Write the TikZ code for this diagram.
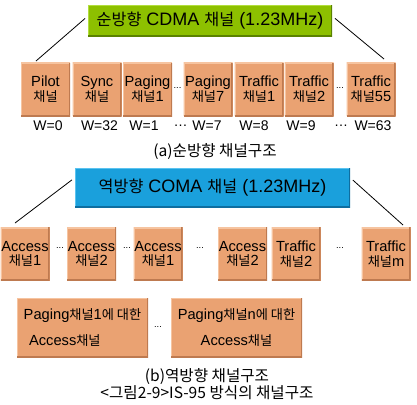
\documentclass[tikz,border=0pt]{standalone}
\usepackage{fontspec}
\setmainfont{Liberation Sans}
\newfontfamily\krfont[Scale=0.9]{Noto Sans CJK KR}
\newcommand\ko[1]{{\krfont#1}}
\usetikzlibrary{positioning}
\definecolor{grn}{RGB}{141,192,0}
\definecolor{grnhi}{RGB}{178,222,60}
\definecolor{grnline}{RGB}{90,130,0}
\definecolor{blu}{RGB}{26,160,220}
\definecolor{bluhi}{RGB}{90,195,240}
\definecolor{bluline}{RGB}{14,110,160}
\definecolor{org}{RGB}{234,162,114}
\definecolor{orghi}{RGB}{246,196,160}
\definecolor{orgline}{RGB}{190,122,80}
\tikzset{bevel/.style 2 args={path picture={
	\draw[#1, line width=2pt] (path picture bounding box.south west) -- (path picture bounding box.north west) -- (path picture bounding box.north east);
	\draw[#2, line width=2pt] (path picture bounding box.north east) -- (path picture bounding box.south east) -- (path picture bounding box.south west);}}}
\tikzset{chan/.style={fill=org, bevel={orghi}{orgline}, minimum width=36.75pt, minimum height=40pt, inner sep=0pt, align=center, font=\fontsize{11}{11}\selectfont}}
\tikzstyle{head}=[inner sep=0pt, font=\fontsize{13.5}{16}\selectfont]
\tikzstyle{dots}=[inner sep=0pt, font=\fontsize{7}{7}\selectfont]
\tikzstyle{wlab}=[inner sep=0pt, font=\fontsize{10.5}{11}\selectfont]
\tikzstyle{captxt}=[inner sep=0pt, font=\krfont\fontsize{13}{13}\selectfont]

\begin{document}
\begin{tikzpicture}[x=0.75pt, y=-0.75pt, line width=0.6pt]
\useasboundingbox (0,0) rectangle (417,404);
% forward link
\node[head, fill=grn, bevel={grnhi}{grnline}, minimum width=183pt, minimum height=23.25pt] at (210,20.5) (fwd){\ko{순방향} CDMA \ko{채널} (1.23MHz)};
\node[chan] at (45.5,89.5) (pilot){Pilot\\\ko{채널}};
\node[chan] at (97,89.5) (sync){Sync\\\ko{채널}};
\node[chan] at (147.5,89.5) (pg1){Paging\\\ko{채널}1};
\node[chan] at (208,89.5) (pg7){Paging\\\ko{채널}7};
\node[chan] at (259,89.5) (tf1){Traffic\\\ko{채널}1};
\node[chan] at (309,89.5) (tf2){Traffic\\\ko{채널}2};
\node[chan] at (371,89.5) (tf55){Traffic\\\ko{채널}55};
\node[dots] at (177.5,88) (d1){...};
\node[dots] at (340,88) (d2){...};
\node[wlab] at (48,126) (w0){W=0};
\node[wlab] at (99.5,126) (w32){W=32};
\node[wlab] at (144,126) (w1){W=1};
\node[wlab] at (180.5,126) (wd1){\dots};
\node[wlab] at (207,126) (w7){W=7};
\node[wlab] at (254,126) (w8){W=8};
\node[wlab] at (301,126) (w9){W=9};
\node[wlab] at (341,126) (wd2){\dots};
\node[wlab] at (373,126) (w63){W=63};
\node[captxt] at (215,152) (capa){(a)순방향 채널구조};
\coordinate (fl) at (36,61);
\coordinate (fr) at (384,59);
\path[draw, shorten >=2.5pt] (fl) edge (fwd.178)
	(fr) edge (fwd.2);
% reverse link
\node[head, fill=blu, bevel={bluhi}{bluline}, minimum width=206.25pt, minimum height=29.25pt] at (212.5,187.5) (rev){\ko{역방향} COMA \ko{채널} (1.23MHz)};
\node[chan] at (25,254) (ac1){Access\\\ko{채널}1};
\node[chan] at (91.5,254) (ac2){Access\\\ko{채널}2};
\node[chan] at (158,254) (ac3){Access\\\ko{채널}1};
\node[chan] at (242.5,254) (ac4){Access\\\ko{채널}2};
\node[chan] at (296,254) (tr2){Traffic\\\ko{채널}2};
\node[chan] at (386,254) (trm){Traffic\\\ko{채널}m};
\node[dots] at (60,248) (e1){...};
\node[dots] at (127,248) (e2){...};
\node[dots] at (200,248) (e3){...};
\node[dots] at (340,248) (e4){...};
\coordinate (rl) at (15,223);
\coordinate (rr) at (403,225);
\path[draw, shorten >=2.5pt] (rl) edge (rev.176)
	(rr) edge (rev.4);
\node[chan, minimum width=98.25pt, minimum height=44.25pt, align=left] at (82.5,327.5) (pa1){Paging\ko{채널}1\ko{에 대한}\\[9pt]\hspace{4pt}Access\ko{채널}};
\node[chan, minimum width=98.25pt, minimum height=44.25pt] at (236.5,327.5) (pan){Paging\ko{채널}n\ko{에 대한}\\[9pt]Access\ko{채널}\hspace{12pt}};
\node[dots] at (158,327) (e5){...};
\node[captxt] at (207,377) (capb){(b)역방향 채널구조};
\node[captxt] at (207,393) (fig){<그림2-9>IS-95 방식의 채널구조};
\end{tikzpicture}
\end{document}
